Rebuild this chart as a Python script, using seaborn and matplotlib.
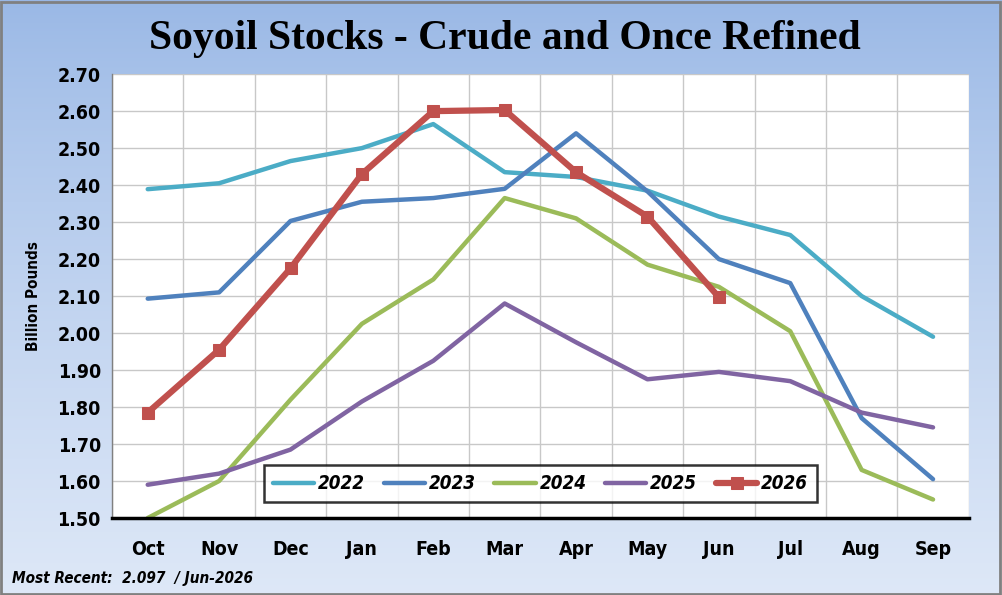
import numpy as np
import pandas as pd
import matplotlib
matplotlib.use('Agg')
import matplotlib.pyplot as plt
import seaborn as sns
from matplotlib.ticker import FixedLocator

months = ["Oct", "Nov", "Dec", "Jan", "Feb", "Mar", "Apr", "May", "Jun", "Jul", "Aug", "Sep"]
years = ["2022", "2023", "2024", "2025", "2026"]

stocks_2022 = [2.389, 2.405, 2.465, 2.500, 2.565, 2.435, 2.422, 2.385, 2.315, 2.265, 2.100, 1.990]
stocks_2023 = [2.093, 2.110, 2.303, 2.355, 2.365, 2.390, 2.540, 2.383, 2.200, 2.135, 1.770, 1.605]
stocks_2024 = [1.500, 1.600, 1.820, 2.025, 2.145, 2.365, 2.310, 2.185, 2.125, 2.005, 1.630, 1.550]
stocks_2025 = [1.590, 1.620, 1.685, 1.815, 1.925, 2.080, 1.975, 1.875, 1.895, 1.870, 1.785, 1.745]
stocks_2026 = [1.785, 1.955, 2.175, 2.430, 2.600, 2.603, 2.435, 2.315, 2.097]

series = {"2022": stocks_2022, "2023": stocks_2023, "2024": stocks_2024,
          "2025": stocks_2025, "2026": stocks_2026}
colors = {"2022": "#4bacc6", "2023": "#4f81bd", "2024": "#9bbb59",
          "2025": "#8064a2", "2026": "#c0504d"}

rows = []
for yr in years:
    for i, v in enumerate(series[yr]):
        rows.append({"year": yr, "pos": i, "month": months[i], "stocks": v})
df = pd.DataFrame(rows)

sns.set_theme(style="white")
plt.rcParams['font.family'] = ['DejaVu Sans']
plt.rcParams['font.stretch'] = 'condensed'
plt.rcParams['text.color'] = 'black'
plt.rcParams['xtick.color'] = 'black'
plt.rcParams['ytick.color'] = 'black'
plt.rcParams['axes.labelcolor'] = 'black'

fig = plt.figure(figsize=(10.02, 5.95), dpi=100)

# gradient background
bg = fig.add_axes([0, 0, 1, 1], zorder=0)
grad = np.linspace(0, 1, 256).reshape(-1, 1)
top = np.array([0.60, 0.72, 0.90])
bot = np.array([0.87, 0.91, 0.97])
img = top + (bot - top) * grad[:, :, None] ** 0.8
bg.imshow(img, aspect='auto', extent=[0, 1, 0, 1], origin='upper')
bg.set_axis_off()
bg.add_patch(plt.Rectangle((0.001, 0.002), 0.997, 0.995, fill=False,
                           edgecolor="#808080", lw=2, transform=bg.transAxes))

ax = fig.add_axes([0.1118, 0.1294, 0.855, 0.746], zorder=1)
ax.set_facecolor("white")

for yr in years:
    sub = df[df["year"] == yr]
    is_last = yr == "2026"
    sns.lineplot(data=sub, x="pos", y="stocks", ax=ax, color=colors[yr],
                 lw=4.5 if is_last else 3.2, sort=False,
                 marker="s" if is_last else None, markersize=9,
                 markeredgecolor=colors[yr], label=yr, zorder=3 if is_last else 2)

yt = np.arange(1.5, 2.71, 0.1)
ax.set_xlim(-0.5, 11.5)
ax.set_ylim(1.5, 2.7)
ax.set_yticks(yt)
ax.set_yticklabels([f"{v:.2f}" for v in yt], fontsize=14, fontweight="bold")
ax.set_xticks(range(12))
ax.set_xticklabels(months, fontsize=14, fontweight="bold")
ax.xaxis.set_minor_locator(FixedLocator(np.arange(-0.5, 12, 1)))
ax.tick_params(axis="x", which="major", length=0, pad=16)
ax.tick_params(axis="x", which="minor", length=8, width=2, color="black", direction="out")
ax.tick_params(axis="y", length=0, pad=8)

ax.grid(True, which="major", axis="y", color="#c8c8c8", lw=1)
ax.grid(True, which="minor", axis="x", color="#c8c8c8", lw=1)
ax.set_axisbelow(True)

for s in ["top", "right"]:
    ax.spines[s].set_visible(False)
ax.spines["left"].set_color("#808080")
ax.spines["left"].set_linewidth(1)
ax.spines["bottom"].set_color("black")
ax.spines["bottom"].set_linewidth(2.5)

ax.set_xlabel("")
ax.set_ylabel("Billion Pounds", fontsize=11, fontweight="bold", labelpad=12)

leg = ax.legend(loc="lower center", bbox_to_anchor=(0.5, 0.035), ncol=5,
                frameon=True, fancybox=False, fontsize=13.5, handlelength=2.2,
                handletextpad=0.2, columnspacing=1.0, borderpad=0.5,
                borderaxespad=0)
leg.get_frame().set_edgecolor("black")
leg.get_frame().set_linewidth(1.8)
for t in leg.get_texts():
    t.set_fontstyle("italic")
    t.set_fontweight("bold")

fig.text(0.504, 0.935, "Soyoil Stocks - Crude and Once Refined", ha="center", va="center",
         fontsize=30, fontweight="bold", family=['Liberation Serif', 'DejaVu Serif'],
         fontstretch="normal")
fig.text(0.012, 0.028, "Most Recent:  2.097  / Jun-2026", ha="left", va="center",
         fontsize=11, fontweight="bold", fontstyle="italic")

fig.savefig("out.png", dpi=100)
